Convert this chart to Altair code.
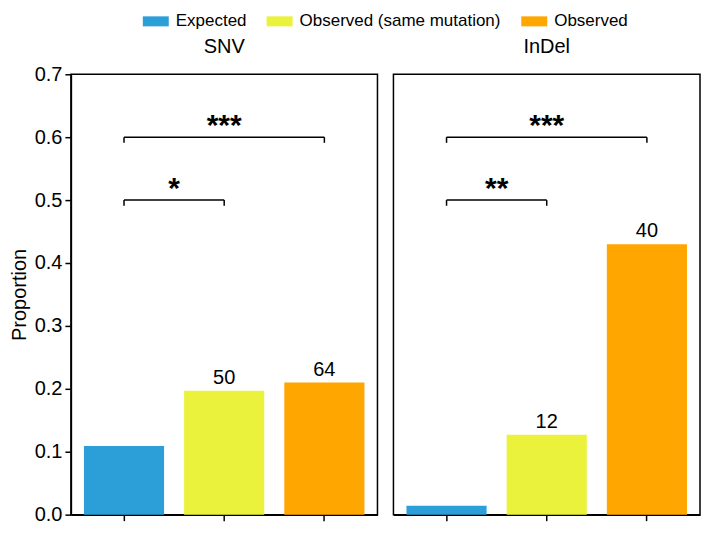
import altair as alt
import pandas as pd

categories = ["Expected", "Observed (same mutation)", "Observed"]
colors = ["#2c9fd8", "#eaf23b", "#ffa600"]
panels = ["SNV", "InDel"]
snv_values = [0.109, 0.197, 0.210]
indel_values = [0.014, 0.127, 0.430]
snv_counts = ["", "50", "64"]
indel_counts = ["", "12", "40"]

# significance brackets: (from, to, level, label)
snv_sig = [("Expected", "Observed (same mutation)", 0.5, "*"),
           ("Expected", "Observed", 0.6, "***")]
indel_sig = [("Expected", "Observed (same mutation)", 0.5, "**"),
             ("Expected", "Observed", 0.6, "***")]

FONT = "Liberation Sans"
W, H = 307, 441


def panel(name, values, counts, sig, show_axis):
    df = pd.DataFrame({"cat": categories, "val": values, "n": counts})
    rows = []
    for a, b, lvl, lab in sig:
        rows.append({"a": a, "b": b, "lvl": lvl, "low": lvl - 0.009, "lab": lab,
                     "gap": categories.index(b) - categories.index(a)})
    sdf = pd.DataFrame(rows)
    step = W / (3 - 0.2 + 2 * 0.13)

    xenc = alt.X("cat:N", sort=categories,
                 scale=alt.Scale(domain=categories, paddingInner=0.2, paddingOuter=0.13),
                 axis=alt.Axis(title=None, labels=False, ticks=True, tickSize=6,
                               tickColor="black", tickWidth=1.5, domainColor="black",
                               domainWidth=1.5, grid=False))
    if show_axis:
        yaxis = alt.Axis(title="Proportion", values=[0, 0.1, 0.2, 0.3, 0.4, 0.5, 0.6, 0.7],
                         format=".1f", labelFontSize=20, titleFontSize=20,
                         titleFontWeight="normal", labelFont=FONT, titleFont=FONT,
                         labelColor="black", titleColor="black", tickColor="black",
                         tickWidth=1.5, tickSize=6, domainColor="black", domainWidth=1.5,
                         grid=False, labelPadding=3, titlePadding=5)
    else:
        yaxis = None
    yscale = alt.Scale(domain=[0, 0.7], nice=False)

    bars = alt.Chart(df).mark_bar().encode(
        x=xenc,
        y=alt.Y("val:Q", scale=yscale, axis=yaxis),
        color=alt.Color("cat:N", sort=categories,
                        scale=alt.Scale(domain=categories, range=colors),
                        legend=alt.Legend(title=None, orient="none", direction="horizontal",
                                          legendX=72, legendY=-66,
                                          labelFontSize=17, labelFont=FONT, labelColor="black",
                                          labelLimit=0,
                                          symbolType="M-1,-0.385L1,-0.385L1,0.385L-1,0.385Z",
                                          symbolSize=676, symbolStrokeWidth=0,
                                          columnPadding=20, labelOffset=7)),
    )
    labels = alt.Chart(df).mark_text(fontSize=20, font=FONT, color="black",
                                     baseline="bottom", dy=-3).encode(
        x=alt.X("cat:N", sort=categories), y=alt.Y("val:Q"), text="n:N")

    hline = alt.Chart(sdf).mark_rule(color="black", strokeWidth=1.5).encode(
        x=alt.X("a:N", sort=categories), x2="b:N", y="lvl:Q")
    vl = alt.Chart(sdf).mark_rule(color="black", strokeWidth=1.5).encode(
        x=alt.X("a:N", sort=categories), y="lvl:Q", y2="low:Q")
    vr = alt.Chart(sdf).mark_rule(color="black", strokeWidth=1.5).encode(
        x=alt.X("b:N", sort=categories), y="lvl:Q", y2="low:Q")
    stars1 = alt.Chart(sdf[sdf.gap == 1]).mark_text(
        fontSize=30, font=FONT, fontWeight="bold", color="black", baseline="alphabetic",
        dx=step / 2, dy=-2).encode(x=alt.X("a:N", sort=categories), y="lvl:Q", text="lab:N")
    stars2 = alt.Chart(sdf[sdf.gap == 2]).mark_text(
        fontSize=30, font=FONT, fontWeight="bold", color="black", baseline="alphabetic",
        dx=step, dy=-2).encode(x=alt.X("a:N", sort=categories), y="lvl:Q", text="lab:N")

    title = alt.Chart(pd.DataFrame({"t": [name]})).mark_text(
        fontSize=20, font=FONT, color="black", baseline="middle").encode(
        x=alt.value(W / 2), y=alt.value(-27), text="t:N")

    return alt.layer(bars, labels, hline, vl, vr, stars1, stars2, title).properties(
        width=W, height=H,
        view=alt.ViewBackground(stroke="black", strokeWidth=1.5))


left = panel(panels[0], snv_values, snv_counts, snv_sig, True)
right = panel(panels[1], indel_values, indel_counts, indel_sig, False)

chart = alt.hconcat(left, right, spacing=14, padding=0).resolve_legend(
    color="shared").configure_view(stroke="black", strokeWidth=1.5).configure(
    background="white")

chart.save("out.html", embed_options={"renderer": "svg", "actions": False})
